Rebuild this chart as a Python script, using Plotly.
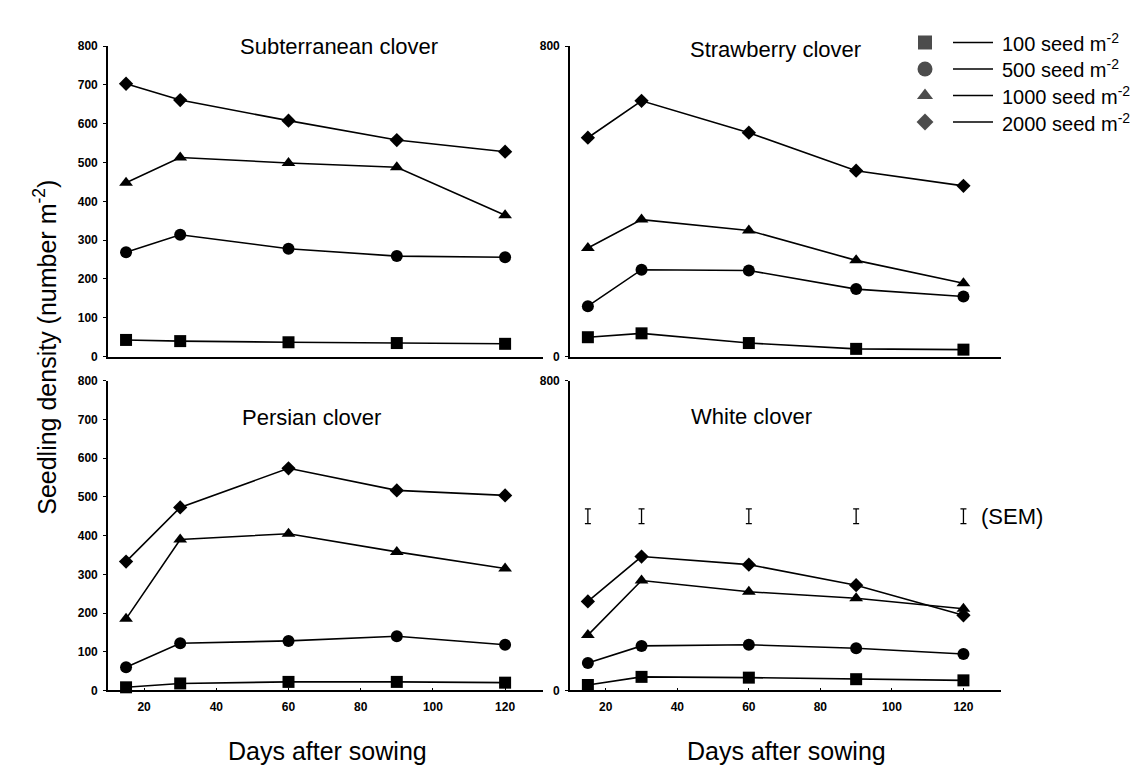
import plotly.graph_objects as go

W, H = 1142, 765

days = [15, 30, 60, 90, 120]
densities = ["100", "500", "1000", "2000"]
symbols = ["square", "circle", "triangle-up", "diamond"]
msizes = [12, 12, 12, 11]

panel_titles = ["Subterranean clover", "Strawberry clover", "Persian clover", "White clover"]

subterranean_100 = [43, 40, 37, 35, 33]
subterranean_500 = [269, 314, 278, 259, 256]
subterranean_1000 = [448, 513, 499, 488, 364]
subterranean_2000 = [703, 661, 608, 558, 528]

strawberry_100 = [50, 60, 35, 20, 18]
strawberry_500 = [130, 224, 222, 174, 155]
strawberry_1000 = [280, 353, 325, 248, 189]
strawberry_2000 = [564, 659, 577, 479, 440]

persian_100 = [8, 18, 22, 22, 20]
persian_500 = [60, 122, 128, 140, 118]
persian_1000 = [185, 390, 405, 358, 315]
persian_2000 = [333, 473, 574, 517, 504]

white_100 = [14, 35, 33, 29, 26]
white_500 = [71, 115, 118, 109, 94]
white_1000 = [143, 284, 255, 238, 211]
white_2000 = [230, 346, 325, 272, 194]

sem_level = [450, 450, 450, 450, 450]
sem_half = [19, 19, 19, 19, 19]

panels = [
    [subterranean_100, subterranean_500, subterranean_1000, subterranean_2000],
    [strawberry_100, strawberry_500, strawberry_1000, strawberry_2000],
    [persian_100, persian_500, persian_1000, persian_2000],
    [white_100, white_500, white_1000, white_2000],
]

FONT = "Liberation Sans, Arial, Helvetica, sans-serif"

fig = go.Figure()

for p, series in enumerate(panels):
    ax = "" if p == 0 else str(p + 1)
    for k, vals in enumerate(series):
        fig.add_trace(go.Scatter(
            x=days, y=vals, mode="lines+markers",
            xaxis="x" + ax, yaxis="y" + ax,
            line=dict(color="black", width=1.6),
            marker=dict(symbol=symbols[k], size=msizes[k], color="black",
                        line=dict(width=0)),
            cliponaxis=False, showlegend=False,
            name=densities[k] + " seed m-2",
        ))

# SEM bars on White clover panel
fig.add_trace(go.Scatter(
    x=days, y=sem_level, mode="markers", xaxis="x4", yaxis="y4",
    marker=dict(size=1, color="rgba(0,0,0,0)"),
    error_y=dict(type="data", array=sem_half, symmetric=True,
                 color="black", thickness=1.3, width=3),
    cliponaxis=False, showlegend=False, hoverinfo="skip",
))

# Pixel-space helper axis for the custom legend
leg_y = [28, 55, 82, 109]
fig.add_trace(go.Scatter(
    x=[917] * 4, y=leg_y, mode="markers", xaxis="x5", yaxis="y5",
    marker=dict(symbol=symbols, size=[14, 15, 14, 13], color="black",
                line=dict(width=0)),
    cliponaxis=False, showlegend=False, hoverinfo="skip",
))

Lx = [100 / W, 535 / W]
Rx = [562 / W, 993 / W]
Ty = [(H - 348) / H, (H - 31.7) / H]
By = [(H - 688) / H, (H - 372.7) / H]

tickfont = dict(family=FONT, size=12, color="black", weight="bold")
xr = [10, 130.5]

def xax(domain, anchor, labels):
    d = dict(domain=domain, anchor=anchor, range=xr, showline=True,
             linecolor="black", linewidth=1.6, showgrid=False, zeroline=False,
             tickfont=tickfont, fixedrange=True)
    if labels:
        d.update(tickvals=[20, 40, 60, 80, 100, 120], ticks="inside",
                 ticklen=3, tickcolor="black", tickwidth=1, showticklabels=True,
                 ticklabelstandoff=4)
    else:
        d.update(ticks="", showticklabels=False)
    return d

def yax(domain, anchor, full):
    d = dict(domain=domain, anchor=anchor, range=[0, 800], showline=True,
             linecolor="black", linewidth=1.6, showgrid=False, zeroline=False,
             ticks="outside", ticklen=3, tickcolor="black", tickwidth=1,
             tickfont=tickfont, fixedrange=True, ticklabelstandoff=3)
    d["tickvals"] = list(range(0, 801, 100)) if full else [0, 800]
    return d

annotations = []
title_pos = [(331, 32), (767, 35), (303, 410), (743, 409)]
for t, (px, py) in zip(panel_titles, title_pos):
    annotations.append(dict(text=t, x=px / W, y=1 - py / H, xref="paper", yref="paper",
                            showarrow=False, xanchor="center", yanchor="middle",
                            font=dict(family=FONT, size=22, color="black")))

for px in (319, 778):
    annotations.append(dict(text="Days after sowing", x=px / W, y=1 - 750 / H,
                            xref="paper", yref="paper", showarrow=False,
                            xanchor="center", yanchor="middle",
                            font=dict(family=FONT, size=25, color="black")))

annotations.append(dict(text="Seedling density (number m<sup>-2</sup>)", x=37 / W, y=1 - 339 / H,
                        xref="paper", yref="paper", showarrow=False, textangle=-90,
                        xanchor="center", yanchor="middle",
                        font=dict(family=FONT, size=25, color="black")))

annotations.append(dict(text="(SEM)", x=124.3, y=450, xref="x4", yref="y4",
                        showarrow=False, xanchor="left", yanchor="middle",
                        font=dict(family=FONT, size=22, color="black")))

shapes = []
for d, yy in zip(densities, leg_y):
    shapes.append(dict(type="line", xref="paper", yref="paper",
                       x0=945 / W, x1=985 / W, y0=1 - yy / H, y1=1 - yy / H,
                       line=dict(color="black", width=1.4)))
    annotations.append(dict(text=d + " seed m<sup>-2</sup>", x=993 / W, y=1 - yy / H,
                            xref="paper", yref="paper", showarrow=False,
                            xanchor="left", yanchor="middle", borderpad=0,
                            font=dict(family=FONT, size=20, color="black")))

fig.update_layout(
    width=W, height=H,
    margin=dict(l=0, r=0, t=0, b=0),
    paper_bgcolor="white", plot_bgcolor="rgba(0,0,0,0)",
    showlegend=False,
    xaxis=xax(Lx, "y", False), yaxis=yax(Ty, "x", True),
    xaxis2=xax(Rx, "y2", False), yaxis2=yax(Ty, "x2", False),
    xaxis3=xax(Lx, "y3", True), yaxis3=yax(By, "x3", True),
    xaxis4=xax(Rx, "y4", True), yaxis4=yax(By, "x4", False),
    xaxis5=dict(domain=[0, 1], anchor="y5", range=[0, W], visible=False, fixedrange=True),
    yaxis5=dict(domain=[0, 1], anchor="x5", range=[H, 0], visible=False, fixedrange=True),
    annotations=annotations, shapes=shapes,
    font=dict(family=FONT, color="black"),
)

fig.write_html("out.html")
